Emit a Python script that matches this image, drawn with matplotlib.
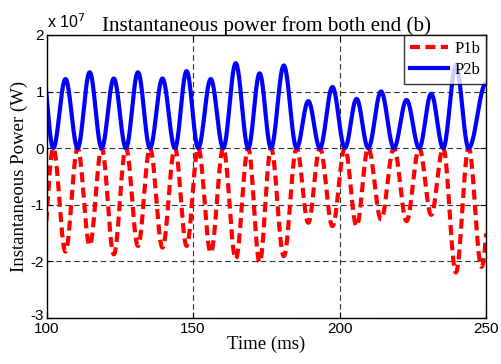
import numpy as np
import matplotlib
matplotlib.use("Agg")
import matplotlib.pyplot as plt
from matplotlib.transforms import ScaledTranslation

# Zero crossings shared by both powers (ms)
zero_t = [94.0, 102.25, 110.58, 118.78, 127.07, 135.27, 143.80, 151.76, 160.29,
          168.83, 176.60, 185.35, 193.31, 201.84, 209.80, 218.57, 227.21,
          235.40, 244.10]
# Lobe extremes between consecutive crossings (x 1e7 W); last entry is the lobe cut at 250 ms
p1b_amp = [-2.10, -1.83, -1.72, -1.88, -1.73, -1.76, -1.73, -1.85, -1.96,
           -2.02, -1.91, -1.32, -1.38, -1.38, -1.26, -1.29, -1.18, -2.20, -2.10]
p2b_amp = [1.58, 1.22, 1.34, 1.23, 1.34, 1.23, 1.36, 1.22, 1.50,
           1.32, 1.46, 0.83, 1.08, 0.87, 1.00, 0.85, 0.96, 1.45, 1.15]
# Closing crossing of the final lobe for each end (ms)
p1b_end = 252.9
p2b_end = 256.0

xticks = [100, 150, 200, 250]
yticks = [-3, -2, -1, 0, 1, 2]


def lobes(edges, amps):
    ts, vs = [], []
    for a, b, amp in zip(edges[:-1], edges[1:], amps):
        t = np.linspace(a, b, 60)
        ts.append(t)
        vs.append(amp * 1e7 * np.sin(np.pi * (t - a) / (b - a)) ** 2)
    return np.concatenate(ts), np.concatenate(vs)


t1, p1 = lobes(zero_t + [p1b_end], p1b_amp)
t2, p2 = lobes(zero_t + [p2b_end], p2b_amp)

serif = ["Liberation Serif", "DejaVu Serif"]
sans = ["Liberation Sans", "DejaVu Sans"]

fig = plt.figure(figsize=(5.02, 3.64), dpi=100)
ax = fig.add_axes([0.093, 0.127, 0.875, 0.777])

ax.plot(t1, p1, color=(1, 0, 0), lw=3, dashes=(2.4, 1.3), label="P1b",
        solid_capstyle="butt", dash_capstyle="butt")
ax.plot(t2, p2, color=(0, 0, 1), lw=3, label="P2b")

ax.set_xlim(100, 250)
ax.set_ylim(-3e7, 2e7)
ax.set_xticks(xticks)
ax.set_xticklabels([str(v) for v in xticks], family=sans, fontsize=11)
ax.set_yticks([v * 1e7 for v in yticks])
ax.set_yticklabels([str(v) for v in yticks], family=sans, fontsize=11)
ax.tick_params(direction="in", length=4, width=0.8, top=True, right=True, pad=2)
ax.tick_params(axis="x", pad=3)

# lift the bottom y label a touch so it sits just above the first x label
low = ax.get_yticklabels()[0]
low.set_transform(low.get_transform() + ScaledTranslation(0, 3 / 100, fig.dpi_scale_trans))

ax.grid(True, color="0.2", lw=0.8, dashes=(5, 3))
for s in ax.spines.values():
    s.set_linewidth(1.0)
    s.set_color("black")

ax.text(0.0, 1.015, r"x 10$^{7}$", transform=ax.transAxes, family=sans,
        fontsize=11.5, ha="left", va="bottom")
ax.set_title("Instantaneous power from both end (b)", family=serif,
             fontsize=15.2, pad=3)
ax.set_xlabel("Time (ms)", family=serif, fontsize=13.5, labelpad=0)
ax.set_ylabel("Instantaneous Power (W)", family=serif, fontsize=13.5, labelpad=2)

leg = ax.legend(loc="upper right", prop={"family": serif, "size": 12},
                frameon=True, fancybox=False, edgecolor="black",
                borderaxespad=0.0, handlelength=2.3, handletextpad=0.35,
                borderpad=0.35, labelspacing=0.3)
leg.get_frame().set_linewidth(1.0)

fig.savefig("out.png", dpi=100)
